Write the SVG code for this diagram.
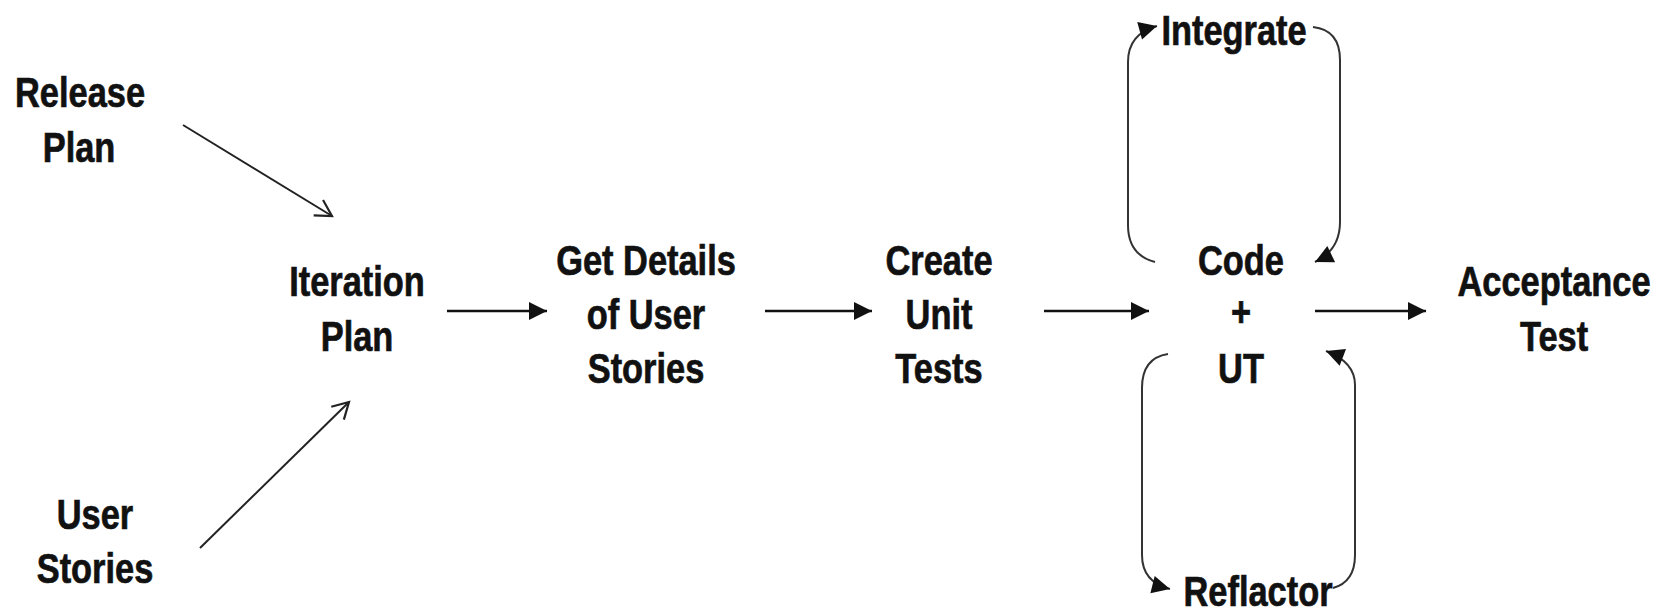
<svg xmlns="http://www.w3.org/2000/svg" width="1670" height="612" viewBox="0 0 1670 612">
  <style>
    .lbl { font-family: "Liberation Sans", Arial, sans-serif; font-weight: bold; font-size: 43px; fill: #111; stroke: #111; stroke-width: 0.7; text-anchor: middle; }
    .flow { stroke: #111; stroke-width: 2.6; fill: none; }
    .feed { stroke: #222; stroke-width: 2; fill: none; }
    .loop { stroke: #333; stroke-width: 2; fill: none; }
  </style>
  <defs>
    <marker id="solid" markerUnits="userSpaceOnUse" markerWidth="24" markerHeight="24" viewBox="0 0 24 24" refX="21" refY="12" orient="auto">
      <path d="M3,3 L21,12 L3,21 Z" fill="#111"/>
    </marker>
    <marker id="open" markerUnits="userSpaceOnUse" markerWidth="26" markerHeight="26" viewBox="0 0 26 26" refX="22" refY="13" orient="auto">
      <path d="M6,4 L22,13 L6,22" fill="none" stroke="#222" stroke-width="2.2"/>
    </marker>
  </defs>

  <rect width="1670" height="612" fill="#fff"/>

  <g id="connectors">
    <!-- inputs into iteration planning -->
    <line class="feed" x1="183" y1="125" x2="332" y2="216" marker-end="url(#open)"/>
    <line class="feed" x1="200" y1="548" x2="349" y2="402" marker-end="url(#open)"/>
    <!-- main flow -->
    <line class="flow" x1="447" y1="311" x2="547" y2="311" marker-end="url(#solid)"/>
    <line class="flow" x1="765" y1="311" x2="872" y2="311" marker-end="url(#solid)"/>
    <line class="flow" x1="1044" y1="311" x2="1149" y2="311" marker-end="url(#solid)"/>
    <line class="flow" x1="1315" y1="311" x2="1426" y2="311" marker-end="url(#solid)"/>
    <!-- code / integrate loop -->
    <path class="loop" d="M1155,262 Q1128,255 1128,225 L1128,62 Q1128,34 1157,26" marker-end="url(#solid)"/>
    <path class="loop" d="M1313,27 Q1340,30 1340,60 L1340,222 Q1340,250 1315,262" marker-end="url(#solid)"/>
    <!-- code / refactor loop -->
    <path class="loop" d="M1168,354 Q1142,358 1142,388 L1142,555 Q1142,582 1170,589" marker-end="url(#solid)"/>
    <path class="loop" d="M1333,588 Q1355,582 1355,555 L1355,385 Q1355,362 1326,351" marker-end="url(#solid)"/>
  </g>

  <g id="release-plan">
    <text class="lbl" transform="translate(80,107) scale(0.8,1)">Release</text>
    <text class="lbl" transform="translate(79,162) scale(0.8,1)">Plan</text>
  </g>
  <g id="user-stories">
    <text class="lbl" transform="translate(95,529) scale(0.8,1)">User</text>
    <text class="lbl" transform="translate(95,583) scale(0.8,1)">Stories</text>
  </g>
  <g id="iteration-plan">
    <text class="lbl" transform="translate(357,296) scale(0.8,1)">Iteration</text>
    <text class="lbl" transform="translate(357,351) scale(0.8,1)">Plan</text>
  </g>
  <g id="get-details">
    <text class="lbl" transform="translate(646,275) scale(0.8,1)">Get Details</text>
    <text class="lbl" transform="translate(646,329) scale(0.8,1)">of User</text>
    <text class="lbl" transform="translate(646,383) scale(0.8,1)">Stories</text>
  </g>
  <g id="create-unit-tests">
    <text class="lbl" transform="translate(939,275) scale(0.8,1)">Create</text>
    <text class="lbl" transform="translate(939,329) scale(0.8,1)">Unit</text>
    <text class="lbl" transform="translate(939,383) scale(0.8,1)">Tests</text>
  </g>
  <g id="code-ut">
    <text class="lbl" transform="translate(1241,275) scale(0.8,1)">Code</text>
    <text class="lbl" transform="translate(1241,326) scale(0.8,1)">+</text>
    <text class="lbl" transform="translate(1241,383) scale(0.8,1)">UT</text>
  </g>
  <g id="integrate">
    <text class="lbl" transform="translate(1234,45) scale(0.8,1)">Integrate</text>
  </g>
  <g id="reflactor">
    <text class="lbl" transform="translate(1258,606) scale(0.8,1)">Reflactor</text>
  </g>
  <g id="acceptance-test">
    <text class="lbl" transform="translate(1554,296) scale(0.8,1)">Acceptance</text>
    <text class="lbl" transform="translate(1554,351) scale(0.8,1)">Test</text>
  </g>
</svg>
